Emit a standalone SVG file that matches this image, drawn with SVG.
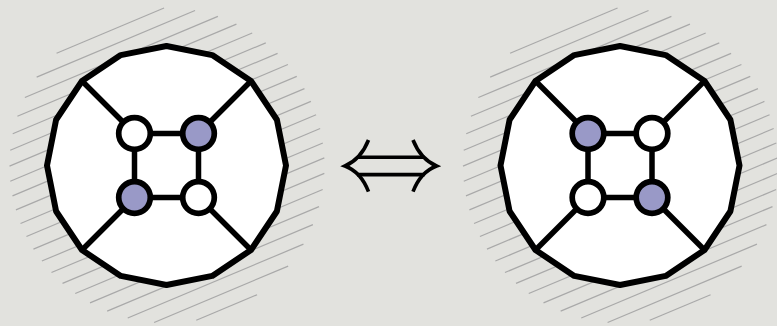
<svg xmlns="http://www.w3.org/2000/svg" width="777" height="326" viewBox="0 0 777 326">
  <style>
    .bg { fill: #e2e2de; }
    .hatch line { stroke: #a9a9a9; stroke-width: 1.2; }
    .boundary { fill: #ffffff; stroke: #000000; stroke-width: 6; stroke-linejoin: round; }
    .edge { stroke: #000000; stroke-width: 5.5; fill: none; }
    .node circle { stroke: #000000; stroke-width: 5.7; }
    .white { fill: #ffffff; }
    .purple { fill: #9999c7; }
    .arrow { stroke: #000000; fill: none; stroke-width: 3.6; }
  </style>
  <defs>
    <g id="hatch" class="hatch" transform="rotate(-22.8)">
      <line x1="-58.3" y1="-146.3" x2="58.3" y2="-146.3"/>
      <line x1="-85.9" y1="-132.0" x2="85.9" y2="-132.0"/>
      <line x1="-104.7" y1="-117.7" x2="104.7" y2="-117.7"/>
      <line x1="-118.8" y1="-103.4" x2="118.8" y2="-103.4"/>
      <line x1="-129.9" y1="-89.1" x2="129.9" y2="-89.1"/>
      <line x1="-138.6" y1="-74.8" x2="138.6" y2="-74.8"/>
      <line x1="-145.4" y1="-60.5" x2="145.4" y2="-60.5"/>
      <line x1="-150.6" y1="-46.2" x2="150.6" y2="-46.2"/>
      <line x1="-154.2" y1="-31.9" x2="154.2" y2="-31.9"/>
      <line x1="-156.5" y1="-17.6" x2="156.5" y2="-17.6"/>
      <line x1="-157.5" y1="-3.3" x2="157.5" y2="-3.3"/>
      <line x1="-157.1" y1="11.0" x2="157.1" y2="11.0"/>
      <line x1="-155.5" y1="25.3" x2="155.5" y2="25.3"/>
      <line x1="-152.4" y1="39.6" x2="152.4" y2="39.6"/>
      <line x1="-148.0" y1="53.9" x2="148.0" y2="53.9"/>
      <line x1="-142.0" y1="68.2" x2="142.0" y2="68.2"/>
      <line x1="-134.2" y1="82.5" x2="134.2" y2="82.5"/>
      <line x1="-124.2" y1="96.8" x2="124.2" y2="96.8"/>
      <line x1="-111.6" y1="111.1" x2="111.6" y2="111.1"/>
      <line x1="-95.3" y1="125.4" x2="95.3" y2="125.4"/>
      <line x1="-72.7" y1="139.7" x2="72.7" y2="139.7"/>
      <line x1="-33.0" y1="154.0" x2="33.0" y2="154.0"/>
    </g>
    <polygon id="poly16" class="boundary" points="0,-119.5 45.73,-110.4 84.5,-84.5 110.4,-45.73 119.5,0 110.4,45.73 84.5,84.5 45.73,110.4 0,119.5 -45.73,110.4 -84.5,84.5 -110.4,45.73 -119.5,0 -110.4,-45.73 -84.5,-84.5 -45.73,-110.4"/>
  </defs>

  <rect class="bg" x="0" y="0" width="777" height="326"/>

  <!-- Left diagram -->
  <g id="left" transform="translate(166.5,165.5)">
    <use href="#hatch" transform="translate(0.5,0)"/>
    <g id="left-boundary"><use href="#poly16"/></g>
    <g id="left-connectors">
      <line class="edge" x1="-32" y1="-32" x2="-84.5" y2="-84.5"/>
      <line class="edge" x1="32" y1="-32" x2="84.5" y2="-84.5"/>
      <line class="edge" x1="-32" y1="32" x2="-84.5" y2="84.5"/>
      <line class="edge" x1="32" y1="32" x2="84.5" y2="84.5"/>
      <line class="edge" x1="-32" y1="-32" x2="32" y2="-32"/>
      <line class="edge" x1="-32" y1="32" x2="32" y2="32"/>
      <line class="edge" x1="-32" y1="-32" x2="-32" y2="32"/>
      <line class="edge" x1="32" y1="-32" x2="32" y2="32"/>
    </g>
    <g id="left-n1" class="node"><circle class="white" cx="-32" cy="-32" r="15.8"/></g>
    <g id="left-n2" class="node"><circle class="purple" cx="32" cy="-32" r="15.8"/></g>
    <g id="left-n3" class="node"><circle class="purple" cx="-32" cy="32" r="15.8"/></g>
    <g id="left-n4" class="node"><circle class="white" cx="32" cy="32" r="15.8"/></g>
  </g>

  <!-- Equivalence arrow -->
  <g id="equiv" class="arrow">
    <line x1="357" y1="157.2" x2="424.5" y2="157.2"/>
    <line x1="357" y1="174.6" x2="424.5" y2="174.6"/>
    <path d="M368.5,140 Q361,159 345,166 Q361,172 368.5,191.7"/>
    <path d="M413,140 Q420.5,159 436.5,166 Q420.5,172 413,191.7"/>
  </g>

  <!-- Right diagram -->
  <g id="right" transform="translate(620,165.5)">
    <use href="#hatch" transform="translate(0.5,0)"/>
    <g id="right-boundary"><use href="#poly16"/></g>
    <g id="right-connectors">
      <line class="edge" x1="-32" y1="-32" x2="-84.5" y2="-84.5"/>
      <line class="edge" x1="32" y1="-32" x2="84.5" y2="-84.5"/>
      <line class="edge" x1="-32" y1="32" x2="-84.5" y2="84.5"/>
      <line class="edge" x1="32" y1="32" x2="84.5" y2="84.5"/>
      <line class="edge" x1="-32" y1="-32" x2="32" y2="-32"/>
      <line class="edge" x1="-32" y1="32" x2="32" y2="32"/>
      <line class="edge" x1="-32" y1="-32" x2="-32" y2="32"/>
      <line class="edge" x1="32" y1="-32" x2="32" y2="32"/>
    </g>
    <g id="right-n1" class="node"><circle class="purple" cx="-32" cy="-32" r="15.8"/></g>
    <g id="right-n2" class="node"><circle class="white" cx="32" cy="-32" r="15.8"/></g>
    <g id="right-n3" class="node"><circle class="white" cx="-32" cy="32" r="15.8"/></g>
    <g id="right-n4" class="node"><circle class="purple" cx="32" cy="32" r="15.8"/></g>
  </g>
</svg>
